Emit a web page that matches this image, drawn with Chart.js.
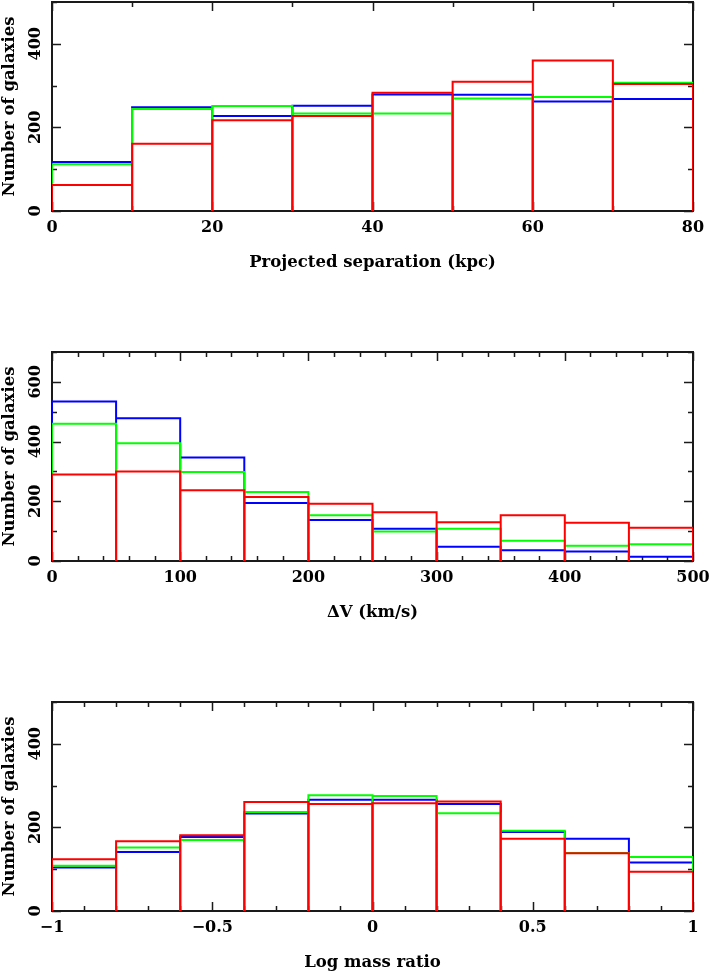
<!DOCTYPE html>
<html>
<head>
<meta charset="utf-8">
<script src="https://cdn.jsdelivr.net/npm/chart.js@4.4.0/dist/chart.umd.min.js"></script>
<style>
  html, body { margin: 0; padding: 0; background: #fff; }
  #wrap { position: relative; width: 709px; height: 974px; overflow: hidden; }
  canvas { position: absolute; left: 0; }
</style>
</head>
<body>
<div id="wrap">
  <canvas id="sep" width="709" height="274" style="top:0px"></canvas>
  <canvas id="dv" width="709" height="274" style="top:350px"></canvas>
  <canvas id="mass" width="709" height="274" style="top:700px"></canvas>
</div>
<script>
// Projected separation histogram (kpc)
const sepEdges = [0, 10, 20, 30, 40, 50, 60, 70, 80];
const sepBlue  = [117, 248, 227, 252, 279, 278, 262, 268];
const sepGreen = [112, 244, 251, 233, 233, 269, 273, 307];
const sepRed   = [62, 161, 217, 227, 283, 309, 360, 304];
const sepXTicks = [0, 20, 40, 60, 80];
const sepYTicks = [0, 200, 400];

// Velocity difference histogram (km/s)
const dvEdges = [0, 50, 100, 150, 200, 250, 300, 350, 400, 450, 500];
const dvBlue  = [534, 478, 347, 194, 137, 108, 48, 36, 32, 14];
const dvGreen = [460, 394, 298, 231, 153, 99, 108, 68, 51, 56];
const dvRed   = [290, 300, 237, 214, 192, 163, 130, 153, 128, 111];
const dvXTicks = [0, 100, 200, 300, 400, 500];
const dvYTicks = [0, 200, 400, 600];

// Log mass ratio histogram
const massEdges = [-1, -0.8, -0.6, -0.4, -0.2, 0, 0.2, 0.4, 0.6, 0.8, 1];
const massBlue  = [104, 141, 177, 233, 266, 266, 256, 189, 173, 116];
const massGreen = [108, 152, 170, 237, 277, 275, 234, 192, 139, 129];
const massRed   = [124, 167, 181, 261, 256, 258, 262, 173, 138, 94];
const massXTicks = [-1, -0.5, 0, 0.5, 1];
const massYTicks = [0, 200, 400];

const FONT = "'DejaVu Serif', serif";

// outline each bin as an open box standing on the axis
function histPoints(edges, counts) {
    const pts = [{ x: edges[0], y: 0 }];
    counts.forEach((c, i) => {
        pts.push({ x: edges[i], y: c }, { x: edges[i + 1], y: c }, { x: edges[i + 1], y: 0 });
    });
    return pts;
}

function fmt(v) {
    return v < 0 ? '\u2212' + Math.abs(v) : String(v);
}

// pgplot style box: frame, inward ticks on all four sides, rotated y labels
const pgFrame = {
    id: 'pgFrame',
    beforeDatasetsDraw(chart, args, opts) {
        const { ctx, chartArea: a, scales: { x, y } } = chart;
        ctx.save();
        ctx.strokeStyle = '#1a1a1a';
        ctx.lineWidth = 2;
        ctx.strokeRect(a.left, a.top, a.right - a.left, a.bottom - a.top);

        ctx.lineWidth = 1.5;
        const isMajor = (v, step) => Math.abs(v / step - Math.round(v / step)) < 1e-6;

        let n = Math.round((x.max - x.min) / opts.xMinor);
        for (let k = 0; k <= n; k++) {
            const v = x.min + k * opts.xMinor;
            const px = Math.round(x.getPixelForValue(v)) + 0.5;
            const len = isMajor(v, opts.xMajor) ? 9 : 5;
            ctx.beginPath();
            ctx.moveTo(px, a.bottom); ctx.lineTo(px, a.bottom - len);
            ctx.moveTo(px, a.top); ctx.lineTo(px, a.top + len);
            ctx.stroke();
        }
        n = Math.round((y.max - y.min) / opts.yMinor);
        for (let k = 0; k <= n; k++) {
            const v = y.min + k * opts.yMinor;
            const py = Math.round(y.getPixelForValue(v)) + 0.5;
            const len = isMajor(v, opts.yMajor) ? 9 : 5;
            ctx.beginPath();
            ctx.moveTo(a.left, py); ctx.lineTo(a.left + len, py);
            ctx.moveTo(a.right, py); ctx.lineTo(a.right - len, py);
            ctx.stroke();
        }

        ctx.fillStyle = '#000';
        ctx.font = 'bold 16px ' + FONT;
        ctx.textAlign = 'center';
        ctx.textBaseline = 'middle';
        opts.yLabels.forEach(v => {
            ctx.save();
            ctx.translate(36, y.getPixelForValue(v));
            ctx.rotate(-Math.PI / 2);
            ctx.fillText(fmt(v), 0, 0);
            ctx.restore();
        });
        ctx.restore();
    }
};

function makeChart(id, edges, blue, green, red, xTicks, yTicks, yMax, xTitle, steps) {
    const data = {
        datasets: [
            { label: 'red', data: histPoints(edges, red), borderColor: '#ff0000', order: 1 },
            { label: 'green', data: histPoints(edges, green), borderColor: '#00ff00', order: 2 },
            { label: 'blue', data: histPoints(edges, blue), borderColor: '#0000ff', order: 3 }
        ]
    };
    return new Chart(document.getElementById(id), {
        type: 'line',
        data: data,
        options: {
            responsive: false,
            animation: false,
            devicePixelRatio: 1,
            layout: { padding: { top: 2, right: 16, left: 0, bottom: 0 } },
            elements: {
                point: { radius: 0, hoverRadius: 0 },
                line: { borderWidth: 2, tension: 0, fill: false, borderJoinStyle: 'miter' }
            },
            plugins: {
                legend: { display: false },
                tooltip: { enabled: false },
                pgFrame: Object.assign({ yLabels: yTicks }, steps)
            },
            scales: {
                x: {
                    type: 'linear',
                    min: edges[0],
                    max: edges[edges.length - 1],
                    grid: { display: false, drawTicks: false },
                    border: { display: false },
                    afterBuildTicks: s => { s.ticks = xTicks.map(v => ({ value: v })); },
                    ticks: {
                        color: '#000', padding: 7, autoSkip: false, maxRotation: 0,
                        font: { family: FONT, size: 16, weight: 'bold' },
                        callback: v => fmt(v)
                    },
                    title: {
                        display: true, text: xTitle, color: '#000',
                        font: { family: FONT, size: 16.5, weight: 'bold' },
                        padding: { top: 0, bottom: 1 }
                    },
                    afterFit: s => { s.height = 63; s.paddingLeft = 0; s.paddingRight = 0; }
                },
                y: {
                    type: 'linear',
                    min: 0,
                    max: yMax,
                    grid: { display: false, drawTicks: false },
                    border: { display: false },
                    ticks: { display: false },
                    title: {
                        display: true, text: 'Number of galaxies', color: '#000',
                        font: { family: FONT, size: 16.5, weight: 'bold' },
                        padding: { top: 0, bottom: 0 }
                    },
                    afterFit: s => { s.width = 52; s.paddingTop = 0; s.paddingBottom = 0; }
                }
            }
        },
        plugins: [pgFrame]
    });
}

makeChart('sep', sepEdges, sepBlue, sepGreen, sepRed, sepXTicks, sepYTicks, 500,
    'Projected separation (kpc)', { xMajor: 20, xMinor: 10, yMajor: 200, yMinor: 100 });
makeChart('dv', dvEdges, dvBlue, dvGreen, dvRed, dvXTicks, dvYTicks, 700,
    '\u0394V (km/s)', { xMajor: 100, xMinor: 20, yMajor: 200, yMinor: 100 });
makeChart('mass', massEdges, massBlue, massGreen, massRed, massXTicks, massYTicks, 500,
    'Log mass ratio', { xMajor: 0.5, xMinor: 0.1, yMajor: 200, yMinor: 100 });
</script>
</body>
</html>
